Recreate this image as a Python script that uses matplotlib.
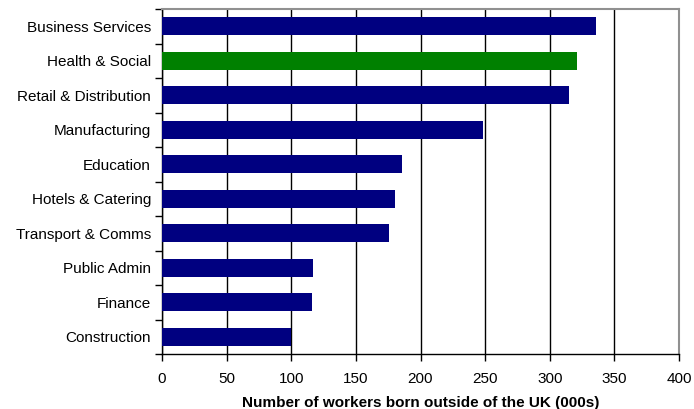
import matplotlib
matplotlib.use("Agg")
import matplotlib.pyplot as plt
import numpy as np

plt.rcParams['font.family'] = ['Liberation Sans', 'DejaVu Sans']

sectors = ["Business Services", "Health & Social", "Retail & Distribution",
           "Manufacturing", "Education", "Hotels & Catering",
           "Transport & Comms", "Public Admin", "Finance", "Construction"]
workers = [336, 321, 315, 248, 186, 180, 176, 117, 116, 100]
highlight = "Health & Social"
x_ticks = [0, 50, 100, 150, 200, 250, 300, 350, 400]

fig = plt.figure(figsize=(6.94, 4.09), dpi=100)
ax = fig.add_axes([162 / 694, 55 / 409, 517 / 694, 345 / 409])

y = np.arange(len(sectors))
colors = ["#008000" if s == highlight else "#000080" for s in sectors]
ax.barh(y, workers, height=0.52, color=colors, zorder=3)

ax.set_xlim(0, 400)
ax.set_ylim(len(sectors) - 0.5, -0.5)
ax.set_xticks(x_ticks)
ax.set_xticklabels([str(t) for t in x_ticks], fontsize=11)
ax.xaxis.grid(True, color="#000000", linewidth=1.0, zorder=1)

ax.set_yticks(y)
ax.set_yticklabels(sectors, fontsize=11)
ax.tick_params(axis="y", length=0, pad=8)
ax.set_yticks(np.arange(len(sectors) + 1) - 0.5, minor=True)
ax.tick_params(axis="y", which="minor", length=5, width=1, direction="out")
ax.tick_params(axis="x", length=5, width=1, direction="out", pad=8)

for side in ("top", "right"):
    ax.spines[side].set_color("#909090")
    ax.spines[side].set_linewidth(1.5)
for side in ("left", "bottom"):
    ax.spines[side].set_color("#000000")
    ax.spines[side].set_linewidth(1.0)

ax.set_xlabel("Number of workers born outside of the UK (000s)",
              fontsize=11, fontweight="bold", labelpad=7)

fig.savefig("out.png", dpi=100)
